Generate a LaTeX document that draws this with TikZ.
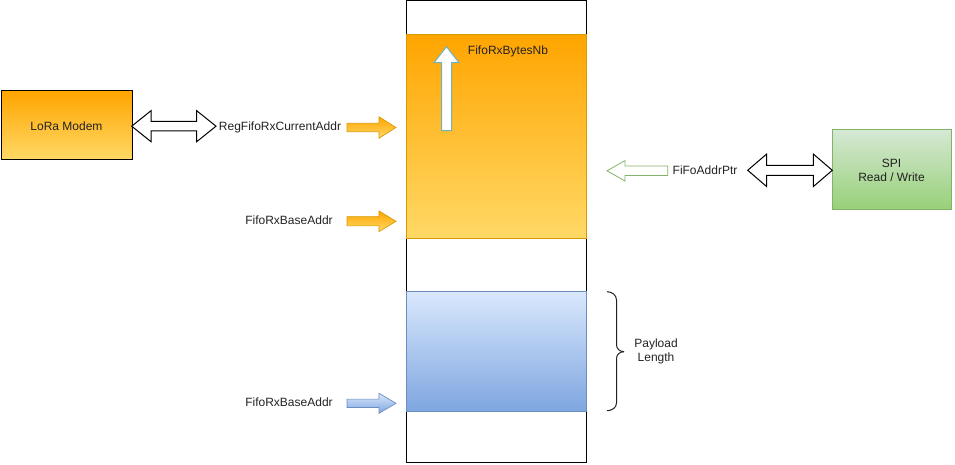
\documentclass[tikz,border=0pt]{standalone}
\usepackage{fontspec}
\setmainfont{Liberation Sans}
\usetikzlibrary{calc}
\definecolor{orTop}{HTML}{FFA500}
\definecolor{orBot}{HTML}{FFD966}
\definecolor{orStroke}{HTML}{D79B00}
\definecolor{blTop}{HTML}{DAE8FC}
\definecolor{blBot}{HTML}{7EA6E0}
\definecolor{blStroke}{HTML}{6C8EBF}
\definecolor{grTop}{HTML}{D5E8D4}
\definecolor{grBot}{HTML}{97D077}
\definecolor{grStroke}{HTML}{82B366}
\definecolor{tealStroke}{HTML}{72B2BC}
\definecolor{txt}{HTML}{222222}
% horizontal block arrow: #1 style, #2 tail, #3 tip, #4 shaft half, #5 head half, #6 head length (sign = direction)
\newcommand{\hblockarrow}[6]{%
  \draw[#1] ($(#2)+(0,#4)$) -- ($(#3)+(-#6,#4)$) -- ($(#3)+(-#6,#5)$) -- (#3)
    -- ($(#3)+(-#6,-#5)$) -- ($(#3)+(-#6,-#4)$) -- ($(#2)+(0,-#4)$) -- cycle;}
% horizontal double block arrow: #1 style, #2 left tip, #3 right tip, #4 shaft half, #5 head half, #6 head length
\newcommand{\hdoublearrow}[6]{%
  \draw[#1] (#2) -- ($(#2)+(#6,#5)$) -- ($(#2)+(#6,#4)$) -- ($(#3)+(-#6,#4)$) -- ($(#3)+(-#6,#5)$) -- (#3)
    -- ($(#3)+(-#6,-#5)$) -- ($(#3)+(-#6,-#4)$) -- ($(#2)+(#6,-#4)$) -- ($(#2)+(#6,-#5)$) -- cycle;}
\tikzset{
  lbl/.style={font=\fontsize{12}{14}\selectfont, text=txt, inner sep=0pt, align=center},
  orfill/.style={top color=orTop, bottom color=orBot},
  blfill/.style={top color=blTop, bottom color=blBot},
  grfill/.style={top color=grTop, bottom color=grBot},
  hollow/.style={draw=black, fill=white, line width=1pt, line join=miter},
}
\begin{document}
\begin{tikzpicture}[x=1pt,y=1pt]
\useasboundingbox (0,0) rectangle (955,464);
% memory column
\draw[line width=1pt, fill=white] (406,463) rectangle (586,2);
\path[orfill] (406,429) rectangle (586,226);
\draw[orStroke, line width=1pt] (406,429) rectangle (586,226);
\path[blfill] (406,173) rectangle (586,53);
\draw[blStroke, line width=1pt] (406,173) rectangle (586,53);
\coordinate (orange) at (496,327);
% boxes
\path[orfill] (1,373) rectangle (132,304);
\draw[line width=1pt] (1,373) rectangle (132,304);
\node[lbl] (lora) at (66.5,338) {LoRa Modem};
\coordinate (loraE) at (132,338);
\path[grfill] (832,334) rectangle (951,254);
\draw[grStroke, line width=1pt] (832,334) rectangle (951,254);
\node[lbl] (spi) at (891.5,294) {SPI\\Read / Write};
\coordinate (spiW) at (832.3,293.7);
% labels
\node[lbl] (regcur) at (280,337) {RegFifoRxCurrentAddr};
\node[lbl] (baseO) at (289,244) {FifoRxBaseAddr};
\node[lbl] (baseB) at (289,62) {FifoRxBaseAddr};
\node[lbl] (bytes) at (508,413) {FifoRxBytesNb};
\node[lbl] (ptr) at (705,294) {FiFoAddrPtr};
\node[lbl] (payload) at (656,112.3) {Payload\\Length};
% LoRa <-> RegFifoRxCurrentAddr
\coordinate (lrA) at (131.7,337.8);
\coordinate (lrB) at (216,337.8);
\hdoublearrow{hollow}{lrA}{lrB}{4.7}{15.5}{19.3}
% SPI <-> FiFoAddrPtr
\coordinate (spA) at (747.7,293.7);
\hdoublearrow{hollow}{spA}{spiW}{5}{16.3}{19}
% orange arrows
\coordinate (a1t) at (347,336.5);
\coordinate (a1h) at (396,336.5);
\hblockarrow{orfill, draw=orStroke, line width=0.7pt}{a1t}{a1h}{4.2}{10.7}{17}
\coordinate (a2t) at (347,242.7);
\coordinate (a2h) at (396,242.7);
\hblockarrow{orfill, draw=orStroke, line width=0.7pt}{a2t}{a2h}{4.6}{10.3}{17}
% blue arrow
\coordinate (a3t) at (347,60.7);
\coordinate (a3h) at (396,60.7);
\hblockarrow{blfill, draw=blStroke, line width=0.7pt}{a3t}{a3h}{4.2}{10}{17}
% green hollow arrow pointing left
\coordinate (g1t) at (667.7,293.2);
\coordinate (g1h) at (607,293.2);
\hblockarrow{draw=grStroke, fill=white, line width=0.8pt}{g1t}{g1h}{4.7}{10.2}{-18}
% FifoRxBytesNb up arrow
\coordinate (ubot) at (446.5,333.3);
\coordinate (utip) at (446.5,417.3);
\draw[draw=tealStroke, fill=white, line width=1pt]
  ($(ubot)+(-5,0)$) -- ($(utip)+(-5,-16)$) -- ($(utip)+(-12.5,-16)$) -- (utip)
  -- ($(utip)+(12.5,-16)$) -- ($(utip)+(5,-16)$) -- ($(ubot)+(5,0)$) -- cycle;
% brace
\coordinate (brTop) at (607,172.3);
\coordinate (brBot) at (607,53.3);
\coordinate (brTip) at (624,112.3);
\draw[line width=1pt, txt]
  (brTop) to[out=0,in=90] (616.5,164) -- (616.5,119)
  to[out=-90,in=180] (brTip);
\draw[line width=1pt, txt]
  (brTip) to[out=180,in=90] (616.5,105.6) -- (616.5,61)
  to[out=-90,in=0] (brBot);
\end{tikzpicture}
\end{document}
